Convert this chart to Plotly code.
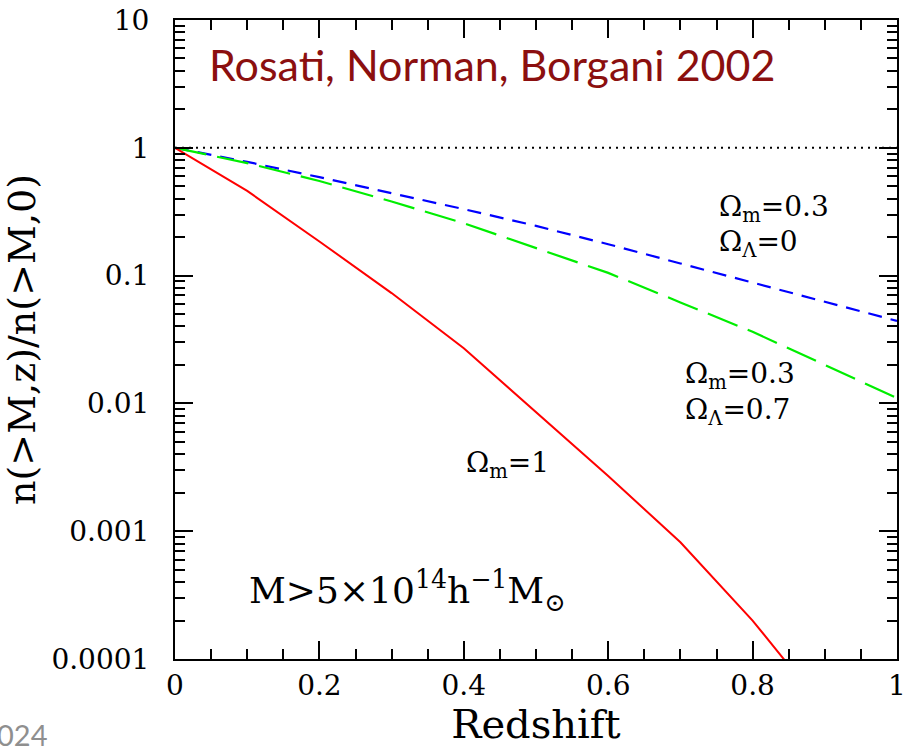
import plotly.graph_objects as go

# ---- data ----
redshift = [0.0, 0.1, 0.2, 0.3, 0.4, 0.5, 0.6, 0.7, 0.8, 0.9, 1.0]
omega_m1 = [1.0, 0.46, 0.185, 0.073, 0.027, 0.0085, 0.0027, 0.00082, 0.0002, 0.00004, 0.000008]
omega_m03_l0 = [1.0, 0.776, 0.589, 0.442, 0.331, 0.245, 0.176, 0.1245, 0.0881, 0.0624, 0.0442]
omega_m03_l07 = [1.0, 0.759, 0.550, 0.380, 0.257, 0.165, 0.105, 0.0617, 0.0363, 0.0200, 0.0110]
reference_level = 1.0

xtick_vals = [0, 0.2, 0.4, 0.6, 0.8, 1]
xtick_text = ["0", "0.2", "0.4", "0.6", "0.8", "1"]
xminor_vals = [i * 0.05 for i in range(21)]
ytick_vals = [1e-4, 1e-3, 1e-2, 1e-1, 1, 10]
ytick_text = ["0.0001", "0.001", "0.01", "0.1", "1", "10"]
yminor_vals = [m * 10 ** e for e in range(-4, 1) for m in range(2, 10)]

serif = "DejaVu Serif"

fig = go.Figure()
fig.add_trace(go.Scatter(x=[0, 1], y=[reference_level, reference_level], mode="lines",
                         line=dict(color="black", width=2, dash="2px,5px"), hoverinfo="skip"))
fig.add_trace(go.Scatter(x=redshift, y=omega_m03_l0, mode="lines",
                         line=dict(color="#0000ff", width=2.2, dash="14px,9px")))
fig.add_trace(go.Scatter(x=redshift, y=omega_m03_l07, mode="lines",
                         line=dict(color="#00ee00", width=2.2, dash="32px,11px")))
fig.add_trace(go.Scatter(x=redshift, y=omega_m1, mode="lines",
                         line=dict(color="#ff0000", width=2)))

axis_common = dict(showline=True, linecolor="black", linewidth=2, mirror="allticks",
                   ticks="inside", ticklen=18, tickwidth=2, tickcolor="black",
                   showgrid=False, zeroline=False, automargin=False,
                   tickfont=dict(family=serif, size=28, color="black"))

fig.update_xaxes(range=[0, 1], tickmode="array", tickvals=xtick_vals, ticktext=xtick_text,
                 minor=dict(ticks="inside", ticklen=10, tickwidth=2, tickcolor="black",
                            tickmode="array", tickvals=xminor_vals),
                 title=dict(text="Redshift", font=dict(family=serif, size=40, color="black"), standoff=8),
                 **axis_common)
fig.update_yaxes(type="log", range=[-4, 1], tickmode="array", tickvals=ytick_vals, ticktext=ytick_text,
                 minor=dict(ticks="inside", ticklen=10, tickwidth=2, tickcolor="black",
                            tickmode="array", tickvals=yminor_vals),
                 ticklabelstandoff=18,
                 title=dict(text="n(>M,z)/n(>M,0)", font=dict(family=serif, size=38, color="black"), standoff=10),
                 **axis_common)

ann_font = dict(family=serif, size=28, color="black")
annotations = [
    dict(xref="paper", yref="paper", x=0.045, y=0.93, text="Rosati, Norman, Borgani 2002",
         font=dict(family="Lato", size=43, color="#8b0f0f"), xanchor="left", yanchor="middle", showarrow=False),
    dict(xref="x", yref="paper", x=0.75, y=0.705, text="Ω<sub>m</sub>=0.3",
         font=ann_font, xanchor="left", yanchor="middle", showarrow=False),
    dict(xref="x", yref="paper", x=0.75, y=0.650, text="Ω<sub>Λ</sub>=0",
         font=ann_font, xanchor="left", yanchor="middle", showarrow=False),
    dict(xref="x", yref="paper", x=0.703, y=0.443, text="Ω<sub>m</sub>=0.3",
         font=ann_font, xanchor="left", yanchor="middle", showarrow=False),
    dict(xref="x", yref="paper", x=0.703, y=0.388, text="Ω<sub>Λ</sub>=0.7",
         font=ann_font, xanchor="left", yanchor="middle", showarrow=False),
    dict(xref="x", yref="paper", x=0.40, y=0.305, text="Ω<sub>m</sub>=1",
         font=ann_font, xanchor="left", yanchor="middle", showarrow=False),
    dict(xref="x", yref="paper", x=0.10, y=0.107, text="M>5×10<sup>14</sup>h<sup>−1</sup>M<sub>⊙</sub>",
         font=dict(family=serif, size=36, color="black"), xanchor="left", yanchor="middle", showarrow=False),
    dict(xref="paper", yref="paper", x=-0.25, y=-0.088, text="024",
         font=dict(family="Lato", size=29, color="#8f8f8f"), xanchor="left", yanchor="top", showarrow=False),
]

fig.update_layout(width=907, height=747,
                  margin=dict(l=175, r=10, t=20, b=88, autoexpand=False),
                  plot_bgcolor="white", paper_bgcolor="white", showlegend=False,
                  annotations=annotations)

fig.write_html("out.html", config={"displayModeBar": False},
               post_script="document.body.style.margin='0px';document.body.style.overflow='hidden';")
